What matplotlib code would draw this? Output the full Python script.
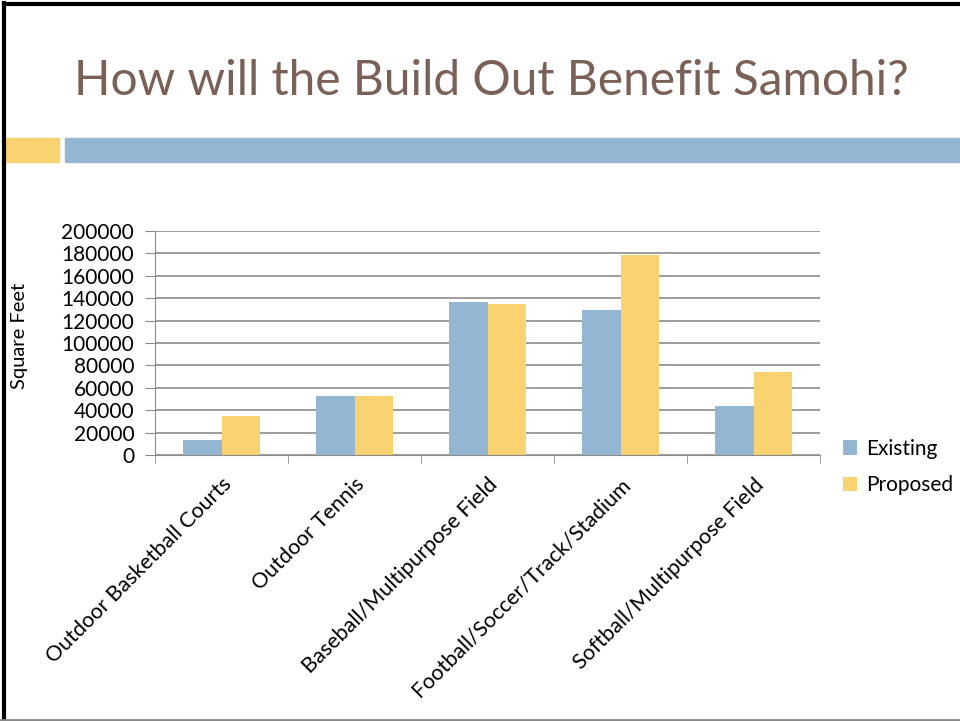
# Slide chart: existing vs proposed square footage
import matplotlib.pyplot as plt
import matplotlib.patches as mpatches
import numpy as np

plt.rcParams['font.family'] = ['Lato', 'DejaVu Sans']

categories = ['Outdoor Basketball Courts', 'Outdoor Tennis', 'Baseball/Multipurpose Field',
              'Football/Soccer/Track/Stadium', 'Softball/Multipurpose Field']
existing = [13000, 53000, 137000, 129500, 44000]
proposed = [35000, 53000, 135000, 178500, 74000]
yticks = np.arange(0, 200001, 20000)

blue = '#94B6D2'
yellow = '#F9D372'
title_color = '#7A6055'

fig = plt.figure(figsize=(9.6, 7.21), dpi=100)

# slide border
fig.add_artist(plt.Line2D([0.004, 0.004], [0.0, 0.996], color='black', lw=3))
fig.add_artist(plt.Line2D([0.004, 1.0], [0.995, 0.995], color='black', lw=3))
fig.add_artist(plt.Line2D([0.0, 1.0], [0.002, 0.002], color='#888888', lw=2))

# decorative header bars
fig.add_artist(mpatches.Rectangle((6 / 960, 1 - 162 / 721), 53 / 960, 24 / 721,
                                  color=yellow, transform=fig.transFigure))
fig.add_artist(mpatches.Rectangle((65 / 960, 1 - 162 / 721), 895 / 960, 24 / 721,
                                  color=blue, transform=fig.transFigure))

fig.text(0.512, 1 - 81 / 721, 'How will the Build Out Benefit Samohi?', ha='center', va='center',
         fontsize=34.5, color=title_color)

ax = fig.add_axes([155 / 960, 1 - 455 / 721, 665 / 960, 224 / 721])
x = np.arange(len(categories))
w = 0.286
ax.bar(x - w / 2, existing, w, color=blue, label='Existing')
ax.bar(x + w / 2, proposed, w, color=yellow, label='Proposed')

ax.set_xlim(-0.5, len(categories) - 0.5)
ax.set_ylim(0, 200000)
ax.set_yticks(yticks)
ax.set_yticklabels([str(v) for v in yticks], fontsize=15)
ax.yaxis.grid(True, color='#8c8c8c', lw=1.2)
ax.set_axisbelow(True)

ax.set_xticks(x)
ax.set_xticklabels(categories, rotation=45, ha='right', rotation_mode='anchor', fontsize=15.5)
ax.set_xticks(np.arange(-0.5, len(categories), 1), minor=True)
ax.tick_params(axis='x', which='major', length=0, pad=14)
ax.tick_params(axis='x', which='minor', length=6, color='#8c8c8c')
ax.tick_params(axis='y', length=7, color='#8c8c8c', pad=8)

for s in ['top', 'right']:
    ax.spines[s].set_visible(False)
ax.spines['left'].set_color('#8c8c8c')
ax.spines['bottom'].set_color('#8c8c8c')

ax.set_ylabel('Square Feet', fontsize=14.5)
ax.yaxis.set_label_coords((28 - 155) / 665, 0.53)

ax.legend(loc='center left', bbox_to_anchor=(824 / 960, 1 - 467 / 721), bbox_transform=fig.transFigure,
          frameon=False, fontsize=15, handlelength=0.7, handleheight=0.7, handletextpad=0.4,
          labelspacing=0.8)

plt.savefig('out.png', dpi=100)
